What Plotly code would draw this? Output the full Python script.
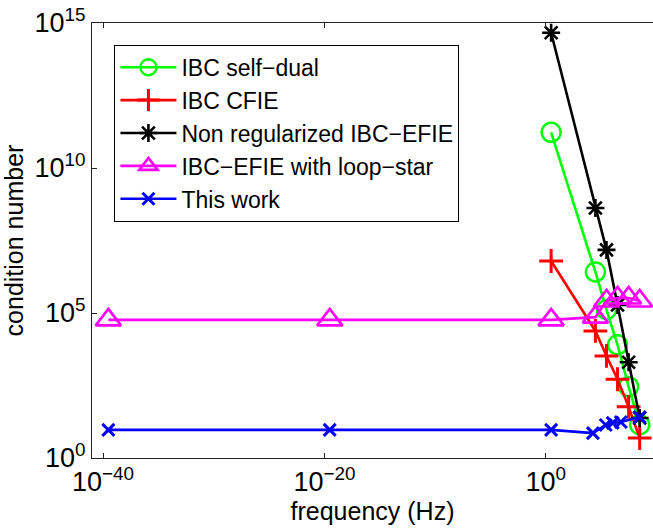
import plotly.graph_objects as go

# Frequencies (Hz) at which each formulation was evaluated
freq_common = [3e-40, 3e-20, 3, 3e4, 3e5, 3e6, 3e7, 3e8]
freq_high = [3, 3e4, 3e5, 3e6, 3e7, 3e8]
freq_this_work = [3e-40, 3e-20, 3, 1.8e4, 2.6e5, 1.1e6, 6e6, 3e8]

# Condition numbers
cond_self_dual = [1.7e11, 2.6e6, 1.3e5, 8e3, 2.9e2, 14]
cond_cfie = [6.2e6, 2.4e4, 3.3e3, 5.2e2, 58, 4.9]
cond_non_reg = [4.6e14, 4.2e8, 1.5e7, 1.9e5, 2.0e3, 24]
cond_loop_star = [5.8e4, 5.8e4, 5.8e4, 7.2e4, 2.6e5, 3.3e5, 3.3e5, 2.6e5]
cond_this_work = [9.3, 9.3, 9.3, 7.2, 13.8, 16.2, 17.4, 25.7]

x_tickvals = [1e-40, 1e-20, 1e0]
x_ticktext = ["10<sup>−40</sup>", "10<sup>−20</sup>", "10<sup>0</sup>"]
y_tickvals = [1e0, 1e5, 1e10, 1e15]
y_ticktext = ["10<sup>0</sup>", "10<sup>5</sup>", "10<sup>10</sup>", "10<sup>15</sup>"]

FONT = "Liberation Sans, Arial, Helvetica, sans-serif"

series = [
    ("IBC self−dual", freq_high, cond_self_dual, "#00ff00", "circle-open", 19, 2.4),
    ("IBC CFIE", freq_high, cond_cfie, "#ff0000", "cross-thin-open", 17, 3),
    ("Non regularized IBC−EFIE", freq_high, cond_non_reg, "#000000", "asterisk-open", 15, 2.6),
    ("IBC−EFIE with loop−star", freq_common, cond_loop_star, "#ff00ff", "triangle-up-open", 22, 2.6),
    ("This work", freq_this_work, cond_this_work, "#0000ff", "x-thin-open", 12, 3),
]

fig = go.Figure()
for name, xs, ys, color, symbol, size, mlw in series:
    fig.add_trace(go.Scatter(
        x=xs, y=ys, name=name, mode="lines+markers",
        line=dict(color=color, width=2.6),
        marker=dict(symbol=symbol, size=size, color=color,
                    line=dict(color=color, width=mlw)),
    ))

axis_common = dict(
    type="log", showgrid=False, zeroline=False,
    showline=True, linecolor="#222222", linewidth=1,
    ticks="inside", ticklen=5, tickcolor="#222222",
    tickmode="array",
    tickfont=dict(family=FONT, size=27, color="#000000"),
    title_font=dict(family=FONT, size=25, color="#000000"),
)

fig.update_layout(
    width=653, height=531,
    margin=dict(l=92, r=0, t=23, b=73),
    paper_bgcolor="white", plot_bgcolor="white",
    xaxis=dict(axis_common, range=[-41, 9.68], mirror="ticks",
               tickvals=x_tickvals, ticktext=x_ticktext,
               title=dict(text="frequency (Hz)", standoff=3)),
    yaxis=dict(axis_common, range=[0, 15], mirror=False,
               tickvals=y_tickvals, ticktext=y_ticktext,
               title=dict(text="condition number", standoff=5)),
    legend=dict(
        x=0.04, y=0.95, xanchor="left", yanchor="top",
        bgcolor="white", bordercolor="#000000", borderwidth=1,
        font=dict(family=FONT, size=23, color="#000000"),
        itemwidth=56, tracegroupgap=0,
    ),
    showlegend=True,
)

fig.write_html("out.html")
